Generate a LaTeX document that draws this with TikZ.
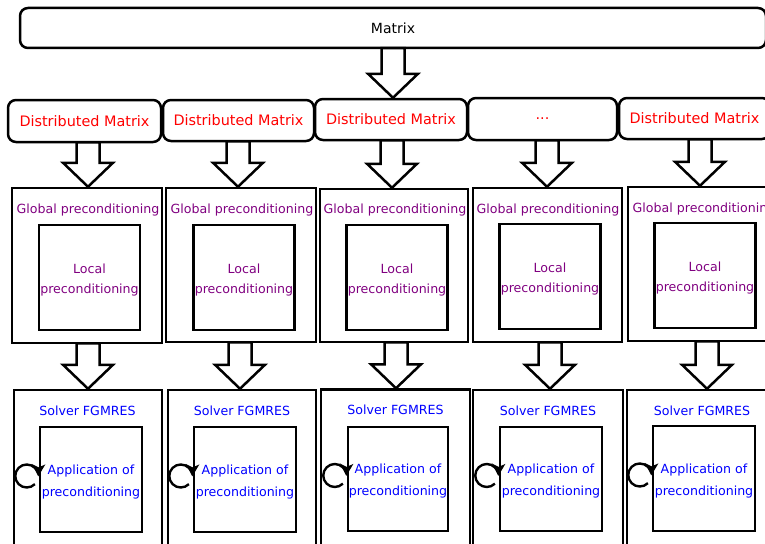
\documentclass[tikz,border=0pt]{standalone}
\usepackage{fontspec}
\setmainfont{DejaVu Sans}
\usetikzlibrary{calc,arrows.meta}
\definecolor{dmred}{HTML}{FF0000}
\definecolor{gpurple}{HTML}{800080}
\definecolor{sblue}{HTML}{0000FF}
\tikzset{
  rbox/.style={draw, line width=2.5pt, rounded corners=8pt, inner sep=0pt, fill=white},
  sqbox/.style={draw, line width=2.5pt, inner sep=0pt},
  bigtxt/.style={font=\fontsize{14}{16}\selectfont},
  redtxt/.style={text=dmred, font=\fontsize{14.4}{16}\selectfont},
  purtxt/.style={text=gpurple, font=\fontsize{12.6}{20.5}\selectfont, align=center, inner sep=0pt},
  blutxt/.style={text=sblue, font=\fontsize{12.6}{22}\selectfont, align=center, inner sep=0pt},
  barrow/.style={draw, line width=2.5pt, fill=white, line join=miter},
  loopar/.style={draw, line width=2.4pt, -{Stealth[length=12pt,width=13pt,inset=3pt]}},
}
\newcommand\blockarrow[3]{%
  \draw[barrow] let \p1=(#2.south), \p2=(#3.north) in
    ({#1pt-11.5pt},{\y1+1pt}) -- ({#1pt+11.5pt},{\y1+1pt}) -- ({#1pt+11.5pt},{\y2+24pt})
    -- ({#1pt+25pt},{\y2+24pt}) -- ({#1pt},{\y2}) -- ({#1pt-25pt},{\y2+24pt})
    -- ({#1pt-11.5pt},{\y2+24pt}) -- cycle;}
\newcommand\apploop[1]{%
  \draw[loopar] ([shift={(-12,-3.5)}]#1.west) ++(45:11.5) arc[start angle=45, end angle=362, radius=11.5];}
\begin{document}
\begin{tikzpicture}[x=1pt,y=-1pt]
\useasboundingbox (0,0) rectangle (765,543);
\clip (0,0) rectangle (765,543);
% top
\node[rbox, minimum width=746, minimum height=40] (m) at (393,28) {};
\node[bigtxt] (mt) at (393,28) {Matrix};
% distributed matrices
\node[rbox, redtxt, minimum width=153, minimum height=42] (d1) at (84.5,121) {Distributed Matrix};
\node[rbox, redtxt, minimum width=151, minimum height=41] (d2) at (238.5,120.5) {Distributed Matrix};
\node[rbox, redtxt, minimum width=152, minimum height=41] (d3) at (391,119.5) {Distributed Matrix};
\node[rbox, redtxt, minimum width=149, minimum height=42] (d4) at (542.5,119) {...};
\node[rbox, redtxt, minimum width=151, minimum height=41] (d5) at (694.5,118.5) {Distributed Matrix};
% global boxes
\node[sqbox, minimum width=150, minimum height=155] (g1) at (87,265.5) {};
\node[sqbox, minimum width=150, minimum height=154] (g2) at (241,265) {};
\node[sqbox, minimum width=148, minimum height=153] (g3) at (394,265.5) {};
\node[sqbox, minimum width=149, minimum height=154] (g4) at (547.5,265) {};
\node[sqbox, minimum width=150, minimum height=154] (g5) at (703,264) {};
\node[purtxt] (gt1) at (88,210) {Global preconditioning};
\node[purtxt] (gt2) at (242,210) {Global preconditioning};
\node[purtxt] (gt3) at (395,210) {Global preconditioning};
\node[purtxt] (gt4) at (548,210) {Global preconditioning};
\node[purtxt] (gt5) at (704,209) {Global preconditioning};
% local boxes
\node[sqbox, minimum width=101, minimum height=105] (l1) at (89.5,277.5) {};
\node[sqbox, minimum width=101, minimum height=105] (l2) at (244,277.5) {};
\node[sqbox, minimum width=101, minimum height=105] (l3) at (397,277.5) {};
\node[sqbox, minimum width=101, minimum height=105] (l4) at (550,276.5) {};
\node[sqbox, minimum width=101, minimum height=105] (l5) at (705,275.5) {};
\node[purtxt] (lt1) at (89.5,280) {Local\\preconditioning};
\node[purtxt] (lt2) at (244,280) {Local\\preconditioning};
\node[purtxt] (lt3) at (397,280) {Local\\preconditioning};
\node[purtxt] (lt4) at (550,279) {Local\\preconditioning};
\node[purtxt] (lt5) at (705,278) {Local\\preconditioning};
% solver boxes
\node[sqbox, minimum width=148, minimum height=170] (s1) at (88,475) {};
\node[sqbox, minimum width=148, minimum height=170] (s2) at (242,475) {};
\node[sqbox, minimum width=149, minimum height=170] (s3) at (395.5,474.5) {};
\node[sqbox, minimum width=150, minimum height=170] (s4) at (548,475) {};
\node[sqbox, minimum width=150, minimum height=170] (s5) at (702,475) {};
\node[blutxt] (st1) at (87.5,411) {Solver FGMRES};
\node[blutxt] (st2) at (242,411) {Solver FGMRES};
\node[blutxt] (st3) at (395.5,410) {Solver FGMRES};
\node[blutxt] (st4) at (548,411) {Solver FGMRES};
\node[blutxt] (st5) at (702,411) {Solver FGMRES};
% application boxes
\node[sqbox, minimum width=102, minimum height=105] (a1) at (91,479.5) {};
\node[sqbox, minimum width=102, minimum height=105] (a2) at (245,479.5) {};
\node[sqbox, minimum width=100, minimum height=104] (a3) at (398,479) {};
\node[sqbox, minimum width=102, minimum height=104] (a4) at (551,479) {};
\node[sqbox, minimum width=102, minimum height=105] (a5) at (704,478.5) {};
\node[blutxt] (at1) at (91,482) {Application of\\preconditioning};
\node[blutxt] (at2) at (245,482) {Application of\\preconditioning};
\node[blutxt] (at3) at (398,481.5) {Application of\\preconditioning};
\node[blutxt] (at4) at (551,481.5) {Application of\\preconditioning};
\node[blutxt] (at5) at (704,481) {Application of\\preconditioning};
% loops
\apploop{a1}\apploop{a2}\apploop{a3}\apploop{a4}\apploop{a5}
% block arrows
\blockarrow{393}{m}{d3}
\blockarrow{88}{d1}{g1}
\blockarrow{238}{d2}{g2}
\blockarrow{392}{d3}{g3}
\blockarrow{547}{d4}{g4}
\blockarrow{700}{d5}{g5}
\blockarrow{88}{g1}{s1}
\blockarrow{240}{g2}{s2}
\blockarrow{396}{g3}{s3}
\blockarrow{550}{g4}{s4}
\blockarrow{707}{g5}{s5}
\end{tikzpicture}
\end{document}
